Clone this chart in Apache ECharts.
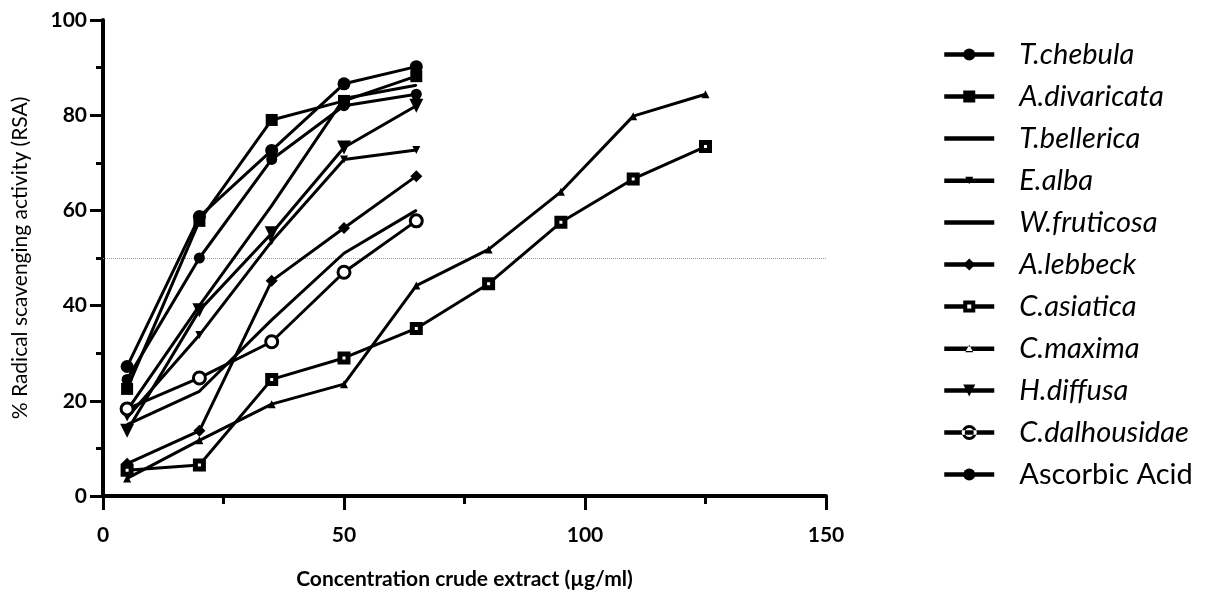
<!DOCTYPE html>
<html>
<head>
<meta charset="utf-8">
<script src="https://cdn.jsdelivr.net/npm/echarts@6/dist/echarts.min.js"></script>
<style>
html,body{margin:0;padding:0;background:#fff;}
#c{width:1206px;height:595px;}
</style>
</head>
<body>
<div id="c"></div>
<script>
// Concentrations (µg/ml)
const xShort = [5, 20, 35, 50, 65];
const xLong = [5, 20, 35, 50, 65, 80, 95, 110, 125];

// % Radical scavenging activity
const tChebula      = [27.2, 58.7, 72.6, 86.6, 90.2];
const aDivaricata   = [22.5, 57.8, 79.0, 83.0, 88.2];
const tBellerica    = [18.0, 40.0, 61.0, 83.5, 86.3];
const eAlba         = [16.5, 33.8, 53.5, 70.7, 72.7];
const wFruticosa    = [15.0, 22.0, 37.0, 51.0, 60.0];
const aLebbeck      = [6.8, 13.7, 45.2, 56.3, 67.2];
const cAsiatica     = [5.4, 6.5, 24.5, 29.0, 35.2, 44.6, 57.5, 66.6, 73.4];
const cMaxima       = [3.7, 11.7, 19.3, 23.5, 44.2, 51.8, 63.9, 79.8, 84.4];
const hDiffusa      = [13.7, 39.0, 55.2, 73.2, 82.0];
const cDalhousidae  = [18.3, 24.8, 32.4, 47.0, 57.8];
const ascorbicAcid  = [24.5, 50.0, 70.7, 82.0, 84.4];

const seriesNames = ['T.chebula','A.divaricata','T.bellerica','E.alba','W.fruticosa','A.lebbeck','C.asiatica','C.maxima','H.diffusa','C.dalhousidae','Ascorbic Acid'];
const yTicks = [0, 20, 40, 60, 80, 100];
const xTicks = [0, 50, 100, 150];

const zip = (xs, ys) => ys.map((v, i) => [xs[i], v]);
const BLACK = '#000';

const defs = [
  {data: zip(xShort, tChebula), symbol: 'circle', size: 13},
  {data: zip(xShort, aDivaricata), symbol: 'rect', size: 12},
  {data: zip(xShort, tBellerica), symbol: 'circle', size: 2},
  {data: zip(xShort, eAlba), symbol: 'triangle', size: 8, rotate: 180},
  {data: zip(xShort, wFruticosa), symbol: 'circle', size: 2},
  {data: zip(xShort, aLebbeck), symbol: 'diamond', size: 12},
  {data: zip(xLong, cAsiatica), symbol: 'rect', size: 8, hollow: 5},
  {data: zip(xLong, cMaxima), symbol: 'triangle', size: 8},
  {data: zip(xShort, hDiffusa), symbol: 'triangle', size: 14, rotate: 180},
  {data: zip(xShort, cDalhousidae), symbol: 'circle', size: 12, hollow: 3},
  {data: zip(xShort, ascorbicAcid), symbol: 'circle', size: 11}
];

const series = defs.map((d, i) => {
  const s = {
    name: seriesNames[i],
    type: 'line',
    data: d.data,
    symbol: d.symbol,
    symbolSize: d.size,
    symbolRotate: d.rotate || 0,
    showAllSymbol: true,
    lineStyle: {color: BLACK, width: 3},
    itemStyle: d.hollow ? {color: '#fff', borderColor: BLACK, borderWidth: d.hollow} : {color: BLACK, borderColor: BLACK, borderWidth: 0},
    emphasis: {disabled: true},
    z: 3
  };
  if (i === 0) {
    s.markLine = {
      silent: true,
      symbol: ['none', 'none'],
      label: {show: false},
      lineStyle: {type: 'dotted', color: '#999', width: 1},
      data: [{yAxis: 50}],
      z: 1
    };
  }
  return s;
});

// legend icons (line + marker drawn as one path)
const lineOnly = 'path://M0,0 L50,0 L50,4.5 L0,4.5 Z';
const lineDownTri = 'path://M0,4.75 L50,4.75 L50,9.25 L0,9.25 Z M21,3 L29,3 L25,10.5 Z';
const lineUpTri = 'path://M0,4.75 L50,4.75 L50,9.25 L0,9.25 Z M21,10.5 L29,10.5 L25,3 Z';
const lineHollowSq = 'path://M0,4.75 L19,4.75 L19,9.25 L0,9.25 Z M31,4.75 L50,4.75 L50,9.25 L31,9.25 Z M19,1 L31,1 L31,13 L19,13 Z M23,5 L23,9 L27,9 L27,5 Z';
const lineRing = 'path://M0,5.25 L50,5.25 L50,9.75 L0,9.75 Z M17.5,7.5 A7.5,7.5 0 1,0 32.5,7.5 A7.5,7.5 0 1,0 17.5,7.5 Z M20.5,7.5 A4.5,4.5 0 1,1 29.5,7.5 A4.5,4.5 0 1,1 20.5,7.5 Z';
const legendIcons = {'T.bellerica': lineOnly, 'W.fruticosa': lineOnly, 'E.alba': lineDownTri, 'C.maxima': lineUpTri,
  'C.asiatica': lineHollowSq, 'C.dalhousidae': lineRing};

const legendData = seriesNames.map((n, i) => {
  const item = {name: n, textStyle: {fontStyle: i === seriesNames.length - 1 ? 'normal' : 'italic'}};
  if (legendIcons[n]) {
    item.icon = legendIcons[n];
    item.itemStyle = {color: BLACK, borderWidth: 0};
  }
  return item;
});

const chart = echarts.init(document.getElementById('c'));
chart.setOption({
  animation: false,
  backgroundColor: '#fff',
  textStyle: {fontFamily: 'Lato'},
  grid: {left: 103, right: 380, top: 20, bottom: 92, containLabel: false},
  xAxis: {
    type: 'value', min: 0, max: 150, interval: 50,
    name: 'Concentration crude extract (µg/ml)',
    nameLocation: 'middle', nameGap: 73,
    nameTextStyle: {color: BLACK, fontSize: 21, fontWeight: 'bold', fontFamily: 'Lato'},
    axisLine: {show: true, lineStyle: {color: BLACK, width: 4}},
    axisTick: {show: true, length: 14, lineStyle: {color: BLACK, width: 3}},
    minorTick: {show: true, splitNumber: 2, length: 8, lineStyle: {color: BLACK, width: 3}},
    axisLabel: {color: BLACK, fontSize: 21, fontWeight: 'bold', margin: 29,
      formatter: v => xTicks.includes(v) ? String(v) : ''},
    splitLine: {show: false}
  },
  yAxis: {
    type: 'value', min: 0, max: 100, interval: 20,
    name: '% Radical scavenging activity (RSA)',
    nameLocation: 'middle', nameGap: 72,
    nameTextStyle: {color: BLACK, fontSize: 21, fontFamily: 'Lato'},
    axisLine: {show: true, lineStyle: {color: BLACK, width: 4}},
    axisTick: {show: true, length: 13, lineStyle: {color: BLACK, width: 3}},
    minorTick: {show: true, splitNumber: 2, length: 7, lineStyle: {color: BLACK, width: 3}},
    axisLabel: {color: BLACK, fontSize: 21, fontWeight: 'bold', margin: 16,
      formatter: v => yTicks.includes(v) ? String(v) : ''},
    splitLine: {show: false}
  },
  legend: {
    orient: 'vertical',
    left: 937, top: 35,
    itemWidth: 50, itemHeight: 15, itemGap: 13,
    lineStyle: {width: 4.5},
    textStyle: {color: BLACK, fontSize: 29, fontFamily: 'Lato', lineHeight: 28, padding: [0, 0, 0, 20]},
    selectedMode: false,
    data: legendData
  },
  series: series
});
</script>
</body>
</html>
